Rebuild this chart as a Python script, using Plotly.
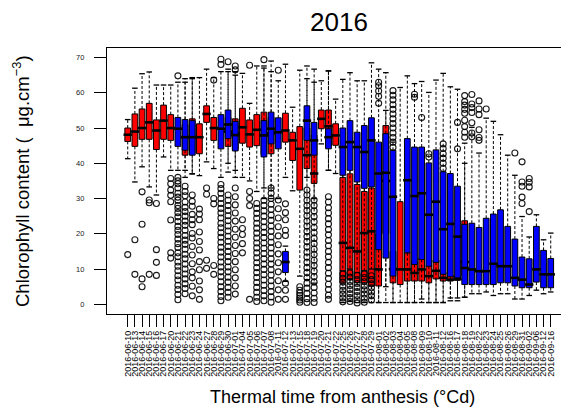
import plotly.graph_objects as go

dates = ["2016-06-10","2016-06-13","2016-06-14","2016-06-15","2016-06-16","2016-06-17","2016-06-20","2016-06-21",
         "2016-06-22","2016-06-23","2016-06-24","2016-06-27","2016-06-28","2016-06-29","2016-06-30","2016-07-01",
         "2016-07-04","2016-07-05","2016-07-06","2016-07-07","2016-07-08","2016-07-11","2016-07-12","2016-07-13",
         "2016-07-15","2016-07-18","2016-07-19","2016-07-20","2016-07-21","2016-07-22","2016-07-25","2016-07-26",
         "2016-07-27","2016-07-28","2016-07-29","2016-08-01","2016-08-02","2016-08-03","2016-08-04","2016-08-05",
         "2016-08-08","2016-08-09","2016-08-10","2016-08-11","2016-08-12","2016-08-16","2016-08-17","2016-08-18",
         "2016-08-19","2016-08-22","2016-08-23","2016-08-24","2016-08-25","2016-08-26","2016-08-29","2016-08-31",
         "2016-09-02","2016-09-06","2016-09-12","2016-09-16"]

# ---- red series (index into dates, 1-based) ----
red_idx = [1,2,3,4,5,6,7,9,10,11,12,13,15,16,17,18,19,20,21,23,24,25,26,27,28,29,30,
           31,32,33,34,35,36,37,38,39,40,41,42,43,44,45,46,47,48]
red_q1  = [46.2,44.8,46.8,46.8,43.9,46.8,46.5,42.3,42.8,42.7,51.6,46.5,44.8,44.0,45.7,44.6,45.0,42.5,42.7,46.0,40.8,32.4,38.5,34.3,49.8,45.0,45.1,
           6.1,7.0,6.1,6.1,5.2,5.2,20.0,6.1,5.6,6.6,6.6,6.6,6.1,7.2,6.6,6.6,6.8,8.0]
red_med = [48.1,49.0,50.0,51.6,49.3,52.1,50.0,47.4,47.5,47.4,54.0,50.0,49.0,48.5,50.2,48.2,49.5,48.0,48.5,49.3,46.5,44.1,42.3,37.1,52.6,50.5,47.9,
           17.4,16.0,15.0,20.2,20.7,9.9,35.0,10.0,9.9,9.9,8.9,9.9,8.0,9.5,7.5,7.0,7.2,12.0]
red_q3  = [50.0,54.0,55.4,57.0,52.3,56.5,53.8,51.0,52.6,51.2,56.3,53.0,53.0,52.6,55.6,52.3,53.8,54.5,53.0,54.2,48.8,50.4,50.0,48.0,55.1,55.1,51.2,
           36.0,37.0,34.0,32.0,33.0,20.0,50.7,15.0,29.1,14.6,12.0,13.0,11.0,12.5,9.0,8.2,8.0,23.7]
red_lo  = [41.3,34.7,39.0,33.3,31.0,41.8,38.0,36.0,37.0,36.5,40.4,38.5,37.5,38.0,36.0,35.0,32.0,30.0,30.0,36.0,32.2,8.0,7.0,6.0,45.5,38.0,37.1,
           0.5,0.8,0.5,0.5,0.5,0.5,5.0,0.5,0.5,0.5,0.5,0.5,0.5,0.5,0.5,1.0,1.0,2.0]
red_hi  = [52.4,61.3,65.4,65.9,62.2,62.2,62.2,63.0,64.0,64.3,66.7,64.3,66.0,66.0,65.5,57.0,67.6,67.0,66.0,68.1,55.9,66.4,64.0,63.0,63.4,66.2,58.2,
           45.0,47.0,44.0,45.0,45.0,35.0,55.0,30.0,61.5,40.0,35.0,35.0,30.0,35.0,30.0,30.0,28.0,40.0]

# ---- blue series ----
blue_idx = [8,9,10,14,15,16,20,21,22,23,26,27,29,31,32,33,34,35,36,37,38,
            40,41,42,43,44,45,46,47,48,49,50,51,52,53,54,55,56,57,58,59,60]
blue_q1  = [44.8,43.7,42.3,44.1,47.0,43.5,41.8,45.5,44.1,9.0,46.5,42.3,44.1,36.6,38.0,34.7,32.9,33.3,15.5,13.1,8.0,
            14.6,11.3,12.7,10.8,11.9,8.5,7.8,7.5,5.6,5.6,5.6,5.6,5.6,6.1,6.1,5.2,4.7,4.7,6.3,4.7,4.7]
blue_med = [49.8,47.4,47.4,49.8,51.0,48.0,47.9,49.8,48.8,12.0,52.1,46.5,47.4,44.6,46.0,44.6,43.2,46.5,37.1,37.3,30.5,
            35.2,30.7,31.5,25.4,29.1,21.3,22.8,19.2,10.3,9.9,9.4,9.4,11.5,10.8,10.8,7.5,7.0,5.6,9.9,8.5,8.5]
blue_q3  = [53.0,52.4,52.1,53.8,55.1,51.9,52.1,54.5,52.9,15.0,56.3,51.6,49.8,50.0,52.1,48.8,50.7,52.9,46.0,48.4,43.7,
            47.0,44.6,44.6,40.1,43.8,37.6,37.1,33.5,22.7,23.0,21.8,24.4,25.6,26.8,22.1,18.5,13.4,12.9,22.1,15.3,13.0]
blue_lo  = [38.0,38.0,37.0,36.0,40.0,36.0,33.0,33.0,30.0,6.5,36.0,30.0,38.0,9.5,10.0,9.0,9.5,10.0,0.5,0.5,0.5,
            0.5,0.5,1.5,0.5,0.5,0.5,1.8,1.8,2.0,3.0,3.0,3.5,2.5,3.0,3.0,1.5,1.5,2.5,4.0,3.0,3.5]
blue_hi  = [63.0,64.0,64.3,66.0,66.7,65.0,67.6,69.0,63.4,16.5,67.6,66.7,66.2,63.8,65.7,63.4,63.4,68.5,66.7,65.7,46.0,
            64.8,62.6,63.2,60.1,63.6,65.5,61.7,61.0,45.7,50.2,42.9,52.8,51.9,48.1,42.3,36.6,24.9,19.1,25.4,18.3,20.2]

# ---- outliers (index into dates, values) ----
out_idx = [1,2,3,4,5,7,8,9,10,11,12,13,14,15,16,17,18,19,20,21,22,23,25,26,27,29,
           31,32,33,34,35,36,38,41,42,43,45,47,48,49,50,51,55,56,57]
out_vals = [
    [14.1],
    [18.3, 8.5],
    [31.9, 22.7, 7.2, 5.0],
    [29.6, 28.8, 8.5],
    [28.6, 15.5, 11.9, 8.2],
    [35.7, 34.2, 32.4, 30.9, 29.1, 23.9, 14.6, 13.1],
    [64.8, 36, 35, 34.2, 33, 31.5, 30.4, 29.5, 28, 27.2, 26, 24.8, 23.5, 22.1, 21, 19.8, 18.5, 17.2, 16.1, 14.6, 13.5, 12, 10.8, 9.5, 8.1, 6.9, 5.4, 4.2, 2.8, 1.3],
    [33.5, 32, 30.8, 29, 27.5, 26.3, 25, 23.6, 22.4, 21, 19.5, 18.2, 17, 15.6, 14.2, 12.9, 11.4, 10, 8.6, 7.2, 5.8, 4.5, 3],
    [31, 29.2, 27.8, 25.5, 24, 22.6, 20.1, 18.8, 16.4, 14, 11.5, 9.2, 7.5, 5.1, 2.4],
    [27, 25.6, 24, 20.5, 17.8, 15.4, 12.1, 9.8, 6.6, 4.1, 1.4],
    [33, 31.2, 12.5, 10.2],
    [63.6, 30, 28.5, 11, 8.5],
    [69.5, 68, 34, 32.8, 31.5, 30, 28.6, 27.2, 25.9, 24.5, 23, 21.7, 20.3, 19, 17.6, 16.2, 14.8, 13.4, 12, 10.6, 9.2, 7.8, 6.4, 5, 3.6, 2.2, 1],
    [68.8, 31, 29.5, 28, 26.6, 25.1, 23.7, 22.2, 20.8, 19.3, 17.9, 16.4, 15, 13.5, 12.1, 10.6, 9.2, 7.7, 6.3, 4.8, 3.4, 2],
    [67.6, 66.5, 33, 30.5, 28.2, 25.9, 23.6, 21.3, 19, 16.7, 14.4, 12.1, 9.8, 7.5, 5.2, 2.9],
    [24, 21.5, 19.8, 17.2, 14.6],
    [67.8, 32, 30, 28, 1.4],
    [28.6, 27.2, 25.8, 24.4, 23, 21.6, 20.2, 18.8, 17.4, 16, 14.6, 13.2, 11.8, 10.4, 9, 7.6, 6.2, 4.8, 3.4, 2, 0.8],
    [69.4, 29.5, 28, 26.5, 25, 23.4, 21.9, 20.4, 18.9, 17.4, 15.9, 14.4, 12.9, 11.4, 9.9, 8.4, 6.9, 5.4, 3.9, 2.4, 1],
    [33, 31.5, 30, 28.4, 26.9, 25.3, 23.8, 22.2, 20.7, 19.1, 17.6, 16, 14.5, 12.9, 11.4, 9.8, 8.3, 6.7, 5.2, 3.6, 2.1, 0.6],
    [66.4, 29.6, 27.1, 24.5, 22, 19.4, 16.9, 14.3, 11.8, 9.2, 6.7, 4.1, 1.4],
    [28.5, 26, 24, 21, 19.5, 6, 4, 1.4],
    [5, 4, 3.2, 2.5, 1.8, 1.2, 0.6],
    [32.4, 31, 29.5, 28, 26.6, 25.1, 23.6, 22.2, 20.7, 19.2, 17.8, 16.3, 14.8, 13.4, 11.9, 10.4, 9, 7.5, 6, 4.6, 3.1, 1.6, 0.5],
    [29.6, 28, 26.5, 24.9, 23.4, 21.8, 20.3, 18.7, 17.2, 15.6, 14.1, 12.5, 11, 9.4, 7.9, 6.3, 4.8, 3.2, 1.7, 0.5],
    [30.5, 29, 27.4, 25.9, 24.3, 22.8, 21.2, 19.7, 18.1, 16.6, 15, 13.5, 11.9, 10.4, 8.8, 7.3, 5.7, 4.2, 2.6, 1.4],
    [8.6, 7.4, 6.3, 5.1, 4, 2.9, 1.8, 0.7],
    [8.9, 7.7, 6.5, 5.3, 4.2, 3, 1.9, 0.8],
    [8.2, 7, 5.9, 4.8, 3.6, 2.5, 1.3, 0.4],
    [8.7, 7.6, 6.4, 5.2, 4.1, 2.9, 1.7, 0.6],
    [8.1, 7, 5.8, 4.7, 3.5, 2.4, 1.2],
    [63, 62, 60.5, 59, 57],
    [60.6, 59.3, 58, 56.6, 55.3, 54, 52.6, 51.3, 50, 48.6, 47.3, 46, 44.5],
    [59.6, 58.7],
    [53],
    [42.7, 41.8],
    [45.5, 44.2, 42.7, 41.4, 40, 38.5],
    [51.6, 44.1],
    [59.2, 57.5, 56.5, 55.3, 54.2, 52.2, 50.4, 48.8, 47.4],
    [59.5, 56.8, 55.8, 54.4, 51.5, 48.6, 47.5],
    [57.7, 55.4, 53.8, 49.5, 47.3, 46.5],
    [55.4],
    [42.9],
    [40.4, 34.7, 33.5, 30.4, 28.6],
    [35.7, 34.6, 33.3, 26.3],
]

y_ticks = [0, 10, 20, 30, 40, 50, 60, 70]

RED = "#FF0000"
BLUE = "#0000FF"


def series_traces(idx, q1, med, q3, lo, hi, color, yaxis):
    xs = [dates[i - 1] for i in idx]
    traces = []
    traces.append(go.Box(
        x=xs, q1=q1, median=med, q3=q3, lowerfence=q1, upperfence=q3,
        orientation="v", boxpoints=False, width=0.8, whiskerwidth=0,
        fillcolor=color, line=dict(color="black", width=1), yaxis=yaxis,
        showlegend=False, hoverinfo="skip"))
    wx, wy = [], []
    for d, a, b, l, h in zip(xs, q1, q3, lo, hi):
        wx += [d, d, None, d, d, None]
        wy += [b, h, None, a, l, None]
    traces.append(go.Scatter(x=wx, y=wy, mode="lines", yaxis=yaxis,
                             line=dict(color="black", width=1, dash="3px,2px"),
                             showlegend=False, hoverinfo="skip"))
    traces.append(go.Scatter(x=xs + xs, y=list(lo) + list(hi), mode="markers", yaxis=yaxis,
                             marker=dict(symbol="line-ew", size=4, line=dict(color="black", width=1.3)),
                             showlegend=False, hoverinfo="skip"))
    traces.append(go.Scatter(x=xs, y=med, mode="markers", yaxis=yaxis,
                             marker=dict(symbol="line-ew", size=6, line=dict(color="black", width=2.6)),
                             showlegend=False, hoverinfo="skip"))
    return traces


fig = go.Figure()
for t in series_traces(red_idx, red_q1, red_med, red_q3, red_lo, red_hi, RED, "y"):
    fig.add_trace(t)
for t in series_traces(blue_idx, blue_q1, blue_med, blue_q3, blue_lo, blue_hi, BLUE, "y2"):
    fig.add_trace(t)

ox, oy = [], []
for i, vals in zip(out_idx, out_vals):
    for v in vals:
        ox.append(dates[i - 1])
        oy.append(v)
fig.add_trace(go.Scatter(x=ox, y=oy, mode="markers", yaxis="y2",
                         marker=dict(symbol="circle-open", size=6, color="rgba(0,0,0,0.9)",
                                     line=dict(width=1.1)),
                         showlegend=False, hoverinfo="skip"))

# page is offset by the 8px body margin; figure sized to fit the window
yrange = [-2.75, 72.7]
fig.update_layout(
    width=561, height=405,
    margin=dict(l=99, r=0, t=40, b=99),
    paper_bgcolor="white", plot_bgcolor="white",
    boxmode="overlay",
    font=dict(family="Liberation Sans, Arial, sans-serif", color="black"),
    xaxis=dict(type="category", categoryorder="array", categoryarray=dates,
               range=[-2.89, 61.55], tickmode="array", tickvals=dates, ticktext=dates,
               tickangle=-90, tickfont=dict(size=9), ticks="outside", ticklen=12,
               tickwidth=1, tickcolor="black", showgrid=False, zeroline=False,
               showline=True, linecolor="black", linewidth=1.3, mirror=True),
    yaxis=dict(range=yrange, tickvals=y_ticks, ticks="outside", ticklen=12, tickwidth=1,
               tickcolor="black", tickfont=dict(size=7.5, color="#222"), ticklabelstandoff=8,
               showgrid=False, zeroline=False, showline=True, linecolor="black",
               linewidth=1.3, mirror=True),
    yaxis2=dict(range=yrange, overlaying="y", visible=False, showgrid=False, zeroline=False),
    annotations=[
        dict(text="2016", xref="paper", yref="paper", x=0.503, y=1, yshift=26,
             xanchor="center", yanchor="middle", showarrow=False, font=dict(size=26)),
        dict(text="Thermal time from anthesis (°Cd)", xref="paper", yref="paper", x=0.51, y=0,
             yshift=-83, xanchor="center", yanchor="middle", showarrow=False, font=dict(size=18)),
        dict(text="Chlorophyll content (  μg.cm<sup>−3</sup>)", xref="paper", yref="paper", x=0, y=0.5,
             xshift=-86, textangle=-90, xanchor="center", yanchor="middle", showarrow=False,
             font=dict(size=18.5)),
    ],
)

fig.write_html("out.html")
